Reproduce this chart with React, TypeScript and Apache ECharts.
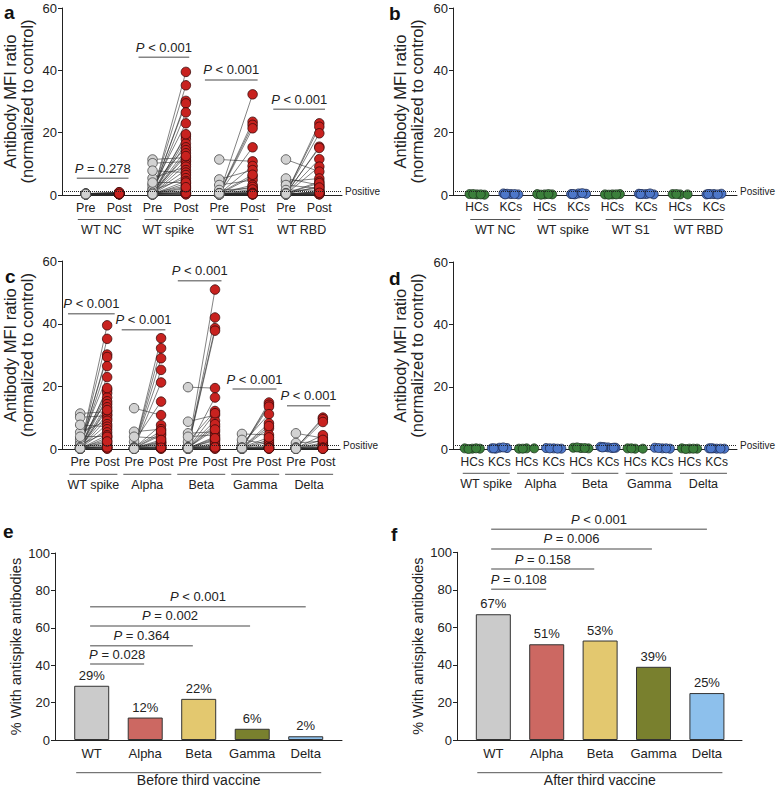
import React, { useEffect, useRef } from "react";
import * as echarts from "echarts";

const FONT = "'Liberation Sans', Arial, Helvetica, sans-serif";
const INK = "#222";

// ---------- Panel a / c : paired pre vs post ----------
const aCats = ["Pre", "Post", "Pre", "Post", "Pre", "Post", "Pre", "Post"];
const aGroupNames = ["WT NC", "WT spike", "WT S1", "WT RBD"];
const cCats = ["Pre", "Post", "Pre", "Post", "Pre", "Post", "Pre", "Post", "Pre", "Post"];
const cGroupNames = ["WT spike", "Alpha", "Beta", "Gamma", "Delta"];

const wtNcPre = [0.3, 0.2, 0.4, 0.3, 0.2, 0.5, 0.3, 0.2, 0.4, 0.3, 0.2, 0.3, 0.4, 0.2, 0.3, 0.2, 0.3, 0.4, 0.2, 0.3];
const wtNcPost = [0.4, 0.3, 0.6, 0.5, 0.3, 0.8, 0.4, 0.3, 0.5, 0.6, 0.2, 0.4, 0.7, 0.3, 0.4, 0.3, 0.5, 0.9, 0.3, 0.4];

const wtSpikePre = [0.3, 0.5, 0.4, 1.0, 0.6, 2.1, 0.8, 0.3, 0.5, 3.2, 0.4, 0.2, 11.4, 0.6, 10.2, 0.3, 5.4, 0.5, 7.8, 0.4, 1.5, 0.3, 0.2, 0.6, 0.4, 0.3, 0.2, 0.5, 0.3, 0.2, 0.4, 0.3, 0.7, 0.2, 4.0, 0.3];
const wtSpikePost = [39.5, 35.2, 30.2, 29.4, 26.5, 23.0, 18.9, 17.9, 16.5, 15.3, 14.4, 13.4, 12.0, 11.2, 10.7, 9.8, 9.1, 8.0, 7.2, 6.4, 5.4, 4.5, 3.7, 2.9, 2.1, 1.5, 1.0, 0.5, 0.3, 0.2, 0.8, 0.6, 12.5, 19.5, 4.0, 2.5];

const wtS1Pre = [0.3, 0.5, 0.4, 0.3, 0.6, 11.4, 0.4, 5.0, 0.3, 3.2, 0.5, 1.6, 0.2, 0.3, 0.2, 0.4, 0.3, 0.5, 0.2, 0.3, 0.4, 0.6, 0.3, 0.2, 0.4, 0.3, 0.2, 0.5];
const wtS1Post = [32.3, 23.5, 22.5, 21.4, 15.3, 10.8, 9.3, 8.0, 5.9, 4.8, 3.2, 2.1, 1.4, 0.8, 0.5, 0.3, 0.2, 6.5, 1.0, 0.6, 0.4, 2.6, 0.3, 0.2, 1.8, 0.7, 0.5, 0.3];

const wtRbdPre = [0.3, 0.4, 0.5, 0.3, 0.6, 0.4, 0.3, 11.4, 4.3, 0.5, 5.3, 3.2, 1.6, 0.3, 0.2, 0.4, 0.3, 0.2, 0.5, 0.3, 0.4, 0.2, 0.3, 0.6, 0.2, 0.4];
const wtRbdPost = [23.0, 21.9, 19.8, 15.5, 15.1, 11.5, 9.1, 7.5, 5.3, 4.3, 3.2, 2.1, 1.5, 0.8, 0.5, 0.3, 2.8, 1.2, 3.8, 0.6, 0.4, 0.2, 1.0, 2.4, 0.3, 0.7];

const alphaPre = [0.3, 0.5, 0.4, 0.6, 0.3, 2.4, 13.1, 0.4, 5.6, 0.3, 4.0, 0.5, 0.3, 0.2, 0.4, 0.3, 0.2, 0.5, 0.3, 0.4, 0.6, 0.2, 0.3, 0.4, 0.2];
const alphaPost = [35.4, 32.2, 29.0, 25.3, 21.3, 15.2, 10.9, 7.7, 6.4, 5.1, 3.5, 2.5, 1.9, 1.0, 0.3, 4.5, 0.6, 2.2, 0.4, 1.4, 5.8, 0.2, 0.8, 3.0, 0.5];

const betaPre = [0.5, 0.3, 0.8, 0.4, 19.8, 0.3, 2.4, 8.8, 0.5, 0.4, 5.1, 4.0, 0.3, 0.6, 0.3, 0.2, 0.4, 0.3, 0.5, 0.2, 0.3, 0.4, 0.6, 0.3, 0.2, 0.5, 0.4];
const betaPost = [50.9, 42.0, 38.6, 37.8, 19.5, 16.5, 12.2, 10.9, 9.1, 7.2, 5.6, 4.6, 4.0, 2.7, 1.4, 0.3, 11.5, 8.0, 6.3, 3.2, 2.0, 0.8, 1.0, 0.5, 0.2, 3.5, 0.6];

const gammaPre = [0.4, 0.6, 0.3, 1.7, 0.5, 0.3, 4.9, 0.4, 3.0, 0.3, 0.2, 0.5, 0.3, 0.2, 0.4, 0.3, 0.2, 0.6, 0.3, 0.4];
const gammaPost = [14.9, 14.2, 13.6, 11.2, 8.3, 6.7, 4.6, 3.0, 1.7, 0.8, 0.3, 7.4, 2.3, 0.5, 1.2, 0.2, 0.6, 3.8, 0.4, 0.3];

const deltaPre = [0.4, 0.5, 0.3, 5.1, 0.4, 2.0, 0.3, 0.2, 0.3, 0.5, 0.2, 0.4, 0.3, 0.2, 0.6, 0.3, 0.4, 0.2];
const deltaPost = [10.1, 9.6, 8.7, 3.6, 4.5, 2.6, 1.6, 0.8, 0.3, 2.0, 0.5, 1.2, 0.2, 0.4, 3.0, 0.6, 0.3, 0.2];

// ---------- Panel b / d : healthy vs kidney controls ----------
const bCats = ["HCs", "KCs", "HCs", "KCs", "HCs", "KCs", "HCs", "KCs"];
const dCats = ["HCs", "KCs", "HCs", "KCs", "HCs", "KCs", "HCs", "KCs", "HCs", "KCs"];
const hcWtNc = [0.2, 0.3, 0.1, 0.3, 0.2];
const kcWtNc = [0.3, 0.5, 0.2, 0.4, 0.3, 0.2];
const hcWtSpike = [0.2, 0.3, 0.2, 0.1, 0.3];
const kcWtSpike = [0.5, 0.3, 0.4, 0.2, 0.6, 0.3];
const hcWtS1 = [0.2, 0.2, 0.3, 0.1, 0.2];
const kcWtS1 = [0.3, 0.4, 0.2, 0.3, 0.5, 0.3];
const hcWtRbd = [0.2, 0.3, 0.2, 0.3];
const kcWtRbd = [0.3, 0.2, 0.4, 0.3, 0.2, 0.3];
const hcAlpha = [0.3, 0.2, 0.3, 0.2];
const kcAlpha = [0.3, 0.4, 0.2, 0.3, 0.2];
const hcBeta = [0.4, 0.5, 0.3, 0.6, 0.4];
const kcBeta = [0.6, 0.8, 0.5, 0.7, 0.4, 0.6, 0.5];
const hcGamma = [0.2, 0.3, 0.2, 0.3];
const kcGamma = [0.3, 0.5, 0.2, 0.4, 0.3];
const hcDelta = [0.2, 0.3, 0.2, 0.1, 0.2];
const kcDelta = [0.2, 0.3, 0.2, 0.3, 0.2, 0.3];

const POSITIVE_CUTOFF = 1.2;

// ---------- Panel e / f : bar charts ----------
const variants = ["WT", "Alpha", "Beta", "Gamma", "Delta"];
const beforeThird = [29, 12, 22, 6, 2];
const afterThird = [67, 51, 53, 39, 25];
const eP = ["= 0.028", "= 0.364", "= 0.002", "< 0.001"];
const fP = ["= 0.108", "= 0.158", "= 0.006", "< 0.001"];

// ---------- styling / layout ----------
const barColors = ["#cbcbcb", "#cc6862", "#e3c86f", "#79802e", "#8dc0ec"];
const PRE_COLOR = "#d2d2d2";
const POST_COLOR = "#c8221f";
const HC_COLOR = "#3b7f3b";
const KC_COLOR = "#4d77c9";

const aSigLayout = [
  { x1: -0.27, x2: 1.28, y: 5.4 },
  { x1: 1.58, x2: 3.1, y: 44.2 },
  { x1: 3.57, x2: 5.15, y: 36.9 },
  { x1: 5.62, x2: 7.17, y: 27.5 },
];
const aP = ["= 0.278", "< 0.001", "< 0.001", "< 0.001"];
const cSigLayout = [
  { x1: -0.45, x2: 1.28, y: 43.2 },
  { x1: 1.54, x2: 3.16, y: 38.1 },
  { x1: 3.62, x2: 5.24, y: 53.7 },
  { x1: 5.65, x2: 7.28, y: 19.2 },
  { x1: 7.67, x2: 9.27, y: 13.9 },
];
const cP = ["< 0.001", "< 0.001", "< 0.001", "< 0.001", "< 0.001"];
const eSigLayout = [
  { x1: -0.03, x2: 0.98, y: 40.6 },
  { x1: -0.03, x2: 1.89, y: 50.4 },
  { x1: -0.03, x2: 2.96, y: 61 },
  { x1: -0.03, x2: 4.0, y: 71.3 },
];
const fSigLayout = [
  { x1: -0.04, x2: 0.99, y: 80.3 },
  { x1: -0.04, x2: 1.89, y: 91.1 },
  { x1: -0.04, x2: 2.97, y: 101.8 },
  { x1: -0.04, x2: 4.0, y: 112.3 },
];
const jitterB = [0, -0.22, 0.22, -0.11, 0.11, -0.17, 0.17];
const jitterD = [0, -0.28, 0.28, -0.14, 0.14, -0.21, 0.21];

function xAxisFor(gi: number, min: number, max: number, labels: string[], margin: number, fontSize: number) {
  return {
    type: "value",
    gridIndex: gi,
    min,
    max,
    axisLine: { show: true, onZero: false, lineStyle: { color: INK, width: 1 } },
    axisTick: { show: false },
    splitLine: { show: false },
    axisLabel: {
      customValues: labels.map((_, i) => i),
      formatter: (v: number) => labels[Math.round(v)] ?? "",
      fontSize,
      color: INK,
      fontFamily: FONT,
      margin,
    },
  };
}

function yAxisFor(gi: number, max: number, name: string, nameGap: number, nameSize: number) {
  return {
    type: "value",
    gridIndex: gi,
    min: 0,
    max,
    interval: 20,
    name,
    nameLocation: "middle",
    nameGap,
    nameTextStyle: { fontSize: nameSize, lineHeight: 17, color: INK, fontFamily: FONT },
    axisLine: { show: true, onZero: false, lineStyle: { color: INK, width: 1 } },
    axisTick: { show: true, length: 4, lineStyle: { color: INK } },
    splitLine: { show: false },
    axisLabel: { fontSize: 13, color: INK, fontFamily: FONT, margin: 5 },
  };
}

const positiveMarkLine = {
  silent: true,
  symbol: ["none", "none"],
  lineStyle: { type: "dotted", color: INK, width: 1 },
  label: { show: true, position: "end", formatter: "Positive", fontSize: 10, color: INK, fontFamily: FONT, distance: 3 },
  data: [{ yAxis: POSITIVE_CUTOFF }],
};

function pairedSeries(axis: number, groups: { pre: number[]; post: number[] }[]) {
  const lineData: any[] = [];
  const preData: number[][] = [];
  const postData: number[][] = [];
  groups.forEach((g, gi) => {
    g.pre.forEach((p, k) => {
      lineData.push({ coords: [[2 * gi, p], [2 * gi + 1, g.post[k]]] });
      preData.push([2 * gi, p]);
      postData.push([2 * gi + 1, g.post[k]]);
    });
  });
  return [
    {
      type: "lines",
      coordinateSystem: "cartesian2d",
      xAxisIndex: axis,
      yAxisIndex: axis,
      silent: true,
      z: 2,
      lineStyle: { color: "#2a2a2a", width: 0.65, opacity: 0.9 },
      data: lineData,
    },
    {
      type: "scatter",
      xAxisIndex: axis,
      yAxisIndex: axis,
      symbolSize: 9.5,
      z: 3,
      itemStyle: { color: PRE_COLOR, borderColor: "#444", borderWidth: 0.8, opacity: 1 },
      data: preData,
      markLine: positiveMarkLine,
    },
    {
      type: "scatter",
      xAxisIndex: axis,
      yAxisIndex: axis,
      symbolSize: 9.5,
      z: 4,
      itemStyle: { color: POST_COLOR, borderColor: "#3a0a0a", borderWidth: 0.8, opacity: 1 },
      data: postData,
    },
  ];
}

function swarmSeries(axis: number, hcGroups: number[][], kcGroups: number[][], jitter: number[]) {
  const hc: number[][] = [];
  const kc: number[][] = [];
  hcGroups.forEach((vals, gi) => vals.forEach((v, k) => hc.push([2 * gi + jitter[k % jitter.length], v])));
  kcGroups.forEach((vals, gi) => vals.forEach((v, k) => kc.push([2 * gi + 1 + jitter[k % jitter.length], v])));
  return [
    {
      type: "scatter",
      xAxisIndex: axis,
      yAxisIndex: axis,
      symbolSize: 9,
      z: 3,
      itemStyle: { color: HC_COLOR, borderColor: "#1c331c", borderWidth: 0.8, opacity: 1 },
      data: hc,
      markLine: positiveMarkLine,
    },
    {
      type: "scatter",
      xAxisIndex: axis,
      yAxisIndex: axis,
      symbolSize: 9,
      z: 3,
      itemStyle: { color: KC_COLOR, borderColor: "#1b2850", borderWidth: 0.8, opacity: 1 },
      data: kc,
    },
  ];
}

function pText(t: string) {
  return "{i|P} " + t;
}

function sigSeries(axis: number, layout: { x1: number; x2: number; y: number }[], texts: string[]) {
  return {
    type: "custom",
    xAxisIndex: axis,
    yAxisIndex: axis,
    clip: false,
    silent: true,
    z: 6,
    data: layout.map((l) => [l.x1, l.y]),
    renderItem: (params: any, api: any) => {
      const l = layout[params.dataIndex];
      const p1 = api.coord([l.x1, l.y]);
      const p2 = api.coord([l.x2, l.y]);
      return {
        type: "group",
        children: [
          { type: "line", shape: { x1: p1[0], y1: p1[1], x2: p2[0], y2: p2[1] }, style: { stroke: "#858585", lineWidth: 1.5 } },
          {
            type: "text",
            x: (p1[0] + p2[0]) / 2,
            y: p1[1] - 10,
            style: {
              text: pText(texts[params.dataIndex]),
              fontSize: 13,
              fontFamily: FONT,
              fill: INK,
              align: "center",
              verticalAlign: "middle",
              rich: { i: { fontStyle: "italic", fontSize: 13, fontFamily: FONT, fill: INK } },
            },
          },
        ],
      };
    },
  };
}

function groupLabelSeries(axis: number, names: string[], off1: number, off2: number, lineDy: number, textDy: number) {
  return {
    type: "custom",
    xAxisIndex: axis,
    yAxisIndex: axis,
    clip: false,
    silent: true,
    z: 6,
    data: names.map((_, i) => [2 * i, 0]),
    renderItem: (params: any, api: any) => {
      const i = params.dataIndex;
      const p1 = api.coord([2 * i + off1, 0]);
      const p2 = api.coord([2 * i + off2, 0]);
      return {
        type: "group",
        children: [
          { type: "line", shape: { x1: p1[0], y1: p1[1] + lineDy, x2: p2[0], y2: p1[1] + lineDy }, style: { stroke: "#555", lineWidth: 1 } },
          {
            type: "text",
            x: (p1[0] + p2[0]) / 2,
            y: p1[1] + textDy,
            style: { text: names[i], fontSize: 12.5, fontFamily: FONT, fill: INK, align: "center", verticalAlign: "middle" },
          },
        ],
      };
    },
  };
}

function bracketSeries(axis: number, text: string, x1: number, x2: number) {
  return {
    type: "custom",
    xAxisIndex: axis,
    yAxisIndex: axis,
    clip: false,
    silent: true,
    z: 6,
    data: [[x1, 0]],
    renderItem: (_params: any, api: any) => {
      const p1 = api.coord([x1, 0]);
      const p2 = api.coord([x2, 0]);
      return {
        type: "group",
        children: [
          { type: "line", shape: { x1: p1[0], y1: p1[1] + 32.7, x2: p2[0], y2: p1[1] + 32.7 }, style: { stroke: "#555", lineWidth: 1 } },
          {
            type: "text",
            x: (p1[0] + p2[0]) / 2,
            y: p1[1] + 39.5,
            style: { text, fontSize: 14, fontFamily: FONT, fill: INK, align: "center", verticalAlign: "middle" },
          },
        ],
      };
    },
  };
}

function barSeries(axis: number, values: number[]) {
  return {
    type: "bar",
    xAxisIndex: axis,
    yAxisIndex: axis,
    barWidth: 35,
    z: 3,
    data: values.map((v, i) => ({ value: [i, v], itemStyle: { color: barColors[i], borderColor: "#333", borderWidth: 1 } })),
    label: {
      show: true,
      position: "top",
      distance: 4,
      formatter: (p: any) => p.value[1] + "%",
      fontSize: 13,
      color: INK,
      fontFamily: FONT,
    },
  };
}

function buildOption() {
  const mfi = "Antibody MFI ratio\n(normalized to control)";
  const pct = "% With antispike antibodies";
  const grid = [
    { left: 60, top: 8, width: 282, height: 187 },
    { left: 453, top: 8, width: 284, height: 187 },
    { left: 60, top: 261, width: 280, height: 188.3 },
    { left: 453, top: 262, width: 284, height: 187.3 },
    { left: 55, top: 553, width: 287, height: 187 },
    { left: 457, top: 552.3, width: 285, height: 187.7 },
  ];
  const xAxis = [
    xAxisFor(0, -0.714, 7.68, aCats, 6, 12.5),
    xAxisFor(1, -0.709, 7.68, bCats, 6, 12),
    xAxisFor(2, -0.674, 9.635, cCats, 6.5, 12.5),
    xAxisFor(3, -0.71, 9.75, dCats, 7, 12),
    xAxisFor(4, -0.686, 4.678, variants, 7, 13),
    xAxisFor(5, -0.68, 4.657, variants, 7, 13),
  ];
  const yAxis = [
    yAxisFor(0, 60, mfi, 27, 16.5),
    yAxisFor(1, 60, mfi, 28, 16.5),
    yAxisFor(2, 60, mfi, 27, 16.5),
    yAxisFor(3, 60, mfi, 28, 16.5),
    yAxisFor(4, 100, pct, 30, 14.5),
    yAxisFor(5, 100, pct, 31, 14.5),
  ];
  const series: any[] = [
    ...pairedSeries(0, [
      { pre: wtNcPre, post: wtNcPost },
      { pre: wtSpikePre, post: wtSpikePost },
      { pre: wtS1Pre, post: wtS1Post },
      { pre: wtRbdPre, post: wtRbdPost },
    ]),
    sigSeries(0, aSigLayout, aP),
    groupLabelSeries(0, aGroupNames, -0.24, 1.18, 24.5, 34.5),
    ...swarmSeries(1, [hcWtNc, hcWtSpike, hcWtS1, hcWtRbd], [kcWtNc, kcWtSpike, kcWtS1, kcWtRbd], jitterB),
    groupLabelSeries(1, aGroupNames, -0.2, 1.28, 24.5, 35),
    ...pairedSeries(2, [
      { pre: wtSpikePre, post: wtSpikePost },
      { pre: alphaPre, post: alphaPost },
      { pre: betaPre, post: betaPost },
      { pre: gammaPre, post: gammaPost },
      { pre: deltaPre, post: deltaPost },
    ]),
    sigSeries(2, cSigLayout, cP),
    groupLabelSeries(2, cGroupNames, -0.4, 1.38, 25, 35.5),
    ...swarmSeries(3, [hcWtSpike, hcAlpha, hcBeta, hcGamma, hcDelta], [kcWtSpike, kcAlpha, kcBeta, kcGamma, kcDelta], jitterD),
    groupLabelSeries(3, cGroupNames, -0.35, 1.38, 24, 34.7),
    barSeries(4, beforeThird),
    sigSeries(4, eSigLayout, eP),
    bracketSeries(4, "Before third vaccine", -0.29, 4.29),
    barSeries(5, afterThird),
    sigSeries(5, fSigLayout, fP),
    bracketSeries(5, "After third vaccine", -0.3, 4.29),
  ];
  const panelLabel = (t: string, x: number, y: number) => ({
    type: "text",
    x,
    y,
    style: { text: t, fontSize: 19, fontWeight: "bold", fontFamily: FONT, fill: "#111", align: "left", verticalAlign: "middle" },
  });
  return {
    animation: false,
    backgroundColor: "#fff",
    grid,
    xAxis,
    yAxis,
    series,
    graphic: [
      panelLabel("a", 4, 12),
      panelLabel("b", 389, 13),
      panelLabel("c", 5, 276),
      panelLabel("d", 389, 278),
      panelLabel("e", 3, 531),
      panelLabel("f", 391, 534),
    ],
  };
}

export default function App() {
  const ref = useRef<HTMLDivElement>(null);
  useEffect(() => {
    const chart = echarts.init(ref.current!, null, { renderer: "svg", width: 777, height: 788 });
    chart.setOption(buildOption() as any);
    return () => chart.dispose();
  }, []);
  return (
    <div
      ref={ref}
      style={{ position: "absolute", left: 0, top: 0, width: 777, height: 788, background: "#fff" }}
    />
  );
}
